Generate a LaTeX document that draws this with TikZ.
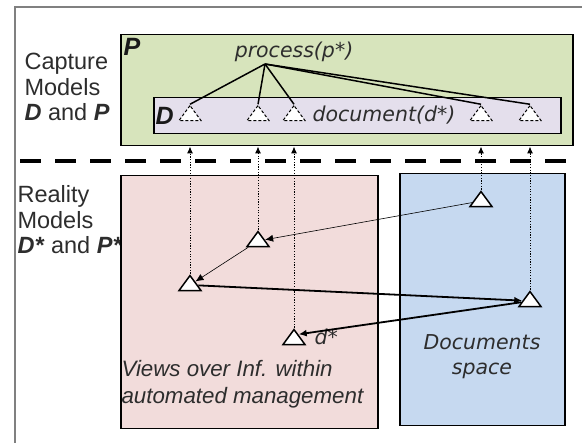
\documentclass[tikz,border=0pt]{standalone}
\usepackage{fontspec}
\setmainfont{Liberation Sans}
\newfontfamily\dvfont{DejaVu Sans}
\usetikzlibrary{arrows.meta,positioning,shapes.geometric}

\definecolor{procgreen}{RGB}{215,228,188}
\definecolor{doclilac}{RGB}{228,223,236}
\definecolor{viewpink}{RGB}{242,220,219}
\definecolor{docblue}{RGB}{198,217,240}
\definecolor{inkgray}{RGB}{45,45,45}

\begin{document}
\begin{tikzpicture}[x=1pt, y=-1pt, >={Latex[length=8pt,width=7pt]},
                    font=\fontsize{23.5}{25.5}\selectfont, text=inkgray]
    \tikzstyle{region} = [rectangle, draw=black, line width=1.5pt, inner sep=0pt,
                          anchor=north west]
    \tikzstyle{obj} = [isosceles triangle, shape border rotate=90,
                       isosceles triangle stretches, minimum width=22pt,
                       minimum height=15pt, inner sep=0pt, draw=black,
                       fill=white, line width=1.5pt]
    \tikzstyle{ghost} = [obj, dashed, line width=1pt, dash pattern=on 3pt off 2pt]
    \tikzstyle{tag} = [font=\dvfont\itshape\fontsize{20.5}{24}\selectfont]
    \tikzstyle{letter} = [anchor=west, text=black!90,
                          font=\bfseries\itshape\fontsize{25}{25}\selectfont]
    \tikzstyle{link} = [dash pattern=on 1.2pt off 1.5pt, line width=1pt,
                        -{Latex[length=7pt,width=6pt]}]

    \useasboundingbox (0,0) rectangle (582,443);
    \draw[black!50, line width=1.5pt] (15,443) -- (15,7) -- (582,7);

    % capture side
    \node (P) [region, fill=procgreen, minimum width=452pt, minimum height=111pt]
          at (120,34) {};
    \node (D) [region, fill=doclilac, minimum width=407pt, minimum height=36pt]
          at (153,97) {};
    \node (Ptag) [letter] at (120,47) {P};
    \node (Dtag) [letter] at (152,116) {D};
    \node (proc) [tag] at (294,52) {process(p*)};
    \node (doc)  [tag] at (384,115) {document(d*)};
    \coordinate (hub) at (265,64);

    \node (d1) [ghost] at (190,115) {};
    \node (d2) [ghost] at (258,115) {};
    \node (d3) [ghost] at (294,115) {};
    \node (d4) [ghost] at (481,115) {};
    \node (d5) [ghost] at (530,115) {};

    \foreach \i in {1,...,5}
      \draw[line width=1.5pt, black] (hub) -- (d\i.north);

    \node (capture) [anchor=north west, align=left] at (21,50)
          {Capture\\Models\\\textbf{\textit{D}} and \textbf{\textit{P}}};

    \draw[line width=4pt, dash pattern=on 21pt off 14pt] (20,161) -- (567,161);

    % reality side
    \node (reality) [anchor=north west, align=left] at (14,182)
          {Reality\\Models\\\textbf{\textit{D*}} and \textbf{\textit{P*}}};
    \node (V) [region, fill=viewpink, minimum width=257pt, minimum height=253pt]
          at (120,175) {};
    \node (S) [region, fill=docblue, minimum width=165pt, minimum height=252pt]
          at (399,173) {};
    \node (views) [anchor=north west, align=left, font=\itshape\fontsize{22.3}{27}\selectfont]
          at (118,357) {Views over Inf. within\\automated management};
    \node (docs) [tag, align=center, font=\dvfont\itshape\fontsize{20.5}{25}\selectfont]
          at (482,357) {Documents\\space};

    \node (r1) [obj] at (190,285) {};
    \node (r2) [obj] at (258,241) {};
    \node (r3) [obj] at (294,339) {};
    \node (r4) [obj] at (481,201) {};
    \node (r5) [obj] at (530,301) {};
    \node (dstar) [tag, right=9pt of r3.east, yshift=2pt] {d*};

    \foreach \i in {1,...,5}
      \draw[link] (r\i.north) -- (r\i.north |- P.south);

    \draw[->, line width=0.6pt] (r4) -- (r2);
    \draw[->, line width=0.6pt] (r2) -- (r1);
    \draw[->, line width=1.8pt] (r1) -- (r5);
    \draw[->, line width=1.8pt] (r5) -- (r3.north east);
\end{tikzpicture}
\end{document}
